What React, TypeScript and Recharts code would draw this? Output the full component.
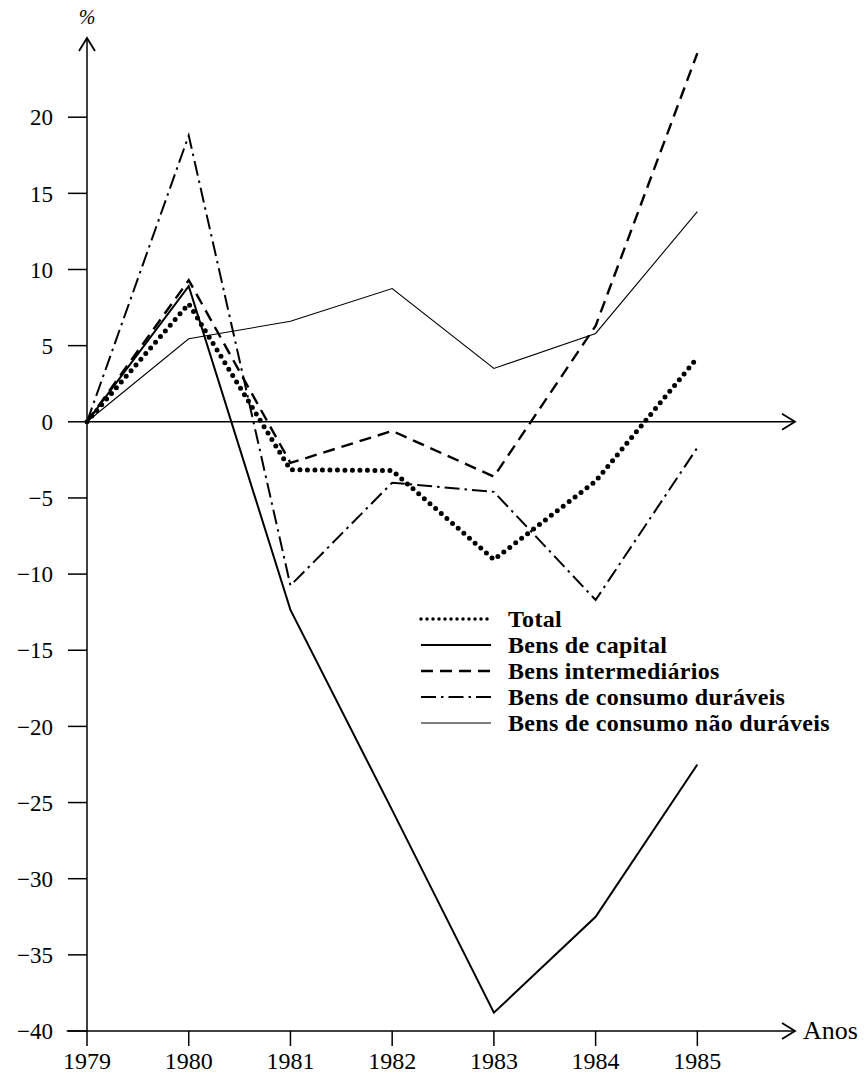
import React from 'react';
import { LineChart, Line, XAxis, YAxis, ReferenceLine, ReferenceDot } from 'recharts';

const years = [1979, 1980, 1981, 1982, 1983, 1984, 1985];
const total = [0, 7.75, -3.15, -3.2, -9.05, -3.9, 4.2];
const capital = [0, 8.9, -12.35, -25.5, -38.8, -32.5, -22.5];
const intermediarios = [0, 9.3, -2.7, -0.6, -3.6, 6.3, 24.2];
const duraveis = [0, 18.8, -10.75, -4.0, -4.6, -11.7, -1.7];
const naoDuraveis = [0, 5.45, 6.6, 8.75, 3.5, 5.8, 13.8];
const yTicks = [-40, -35, -30, -25, -20, -15, -10, -5, 0, 5, 10, 15, 20];

const data = years.map((y, i) => ({
  year: y,
  total: total[i],
  capital: capital[i],
  intermediarios: intermediarios[i],
  duraveis: duraveis[i],
  naoDuraveis: naoDuraveis[i],
}));

const FONT = '"Liberation Serif", "Times New Roman", serif';
const X_END = 1985.96;
const X_START_EXT = 1978.8;
const Y_TOP = 25.2;

const series = [
  { key: 'total', name: 'Total', width: 5, dash: '0 7.5', cap: 'round' as const },
  { key: 'capital', name: 'Bens de capital', width: 2, dash: undefined, cap: 'butt' as const },
  { key: 'intermediarios', name: 'Bens intermediários', width: 2.4, dash: '12 7', cap: 'butt' as const },
  { key: 'duraveis', name: 'Bens de consumo duráveis', width: 2, dash: '15 5 2.5 5', cap: 'butt' as const },
  { key: 'naoDuraveis', name: 'Bens de consumo não duráveis', width: 1.1, dash: undefined, cap: 'butt' as const },
];

const RightArrow = (props: any) => {
  const { cx, cy, label } = props;
  return (
    <g>
      <path d={`M${cx - 13},${cy - 8} L${cx},${cy} L${cx - 13},${cy + 8}`} fill="none" stroke="#000" strokeWidth={1.8} />
      {label ? (
        <text x={cx + 8} y={cy + 8} fontFamily={FONT} fontSize={26} fill="#000">{label}</text>
      ) : null}
    </g>
  );
};

const UpArrow = (props: any) => {
  const { cx, cy } = props;
  return (
    <g>
      <path d={`M${cx - 8},${cy + 13} L${cx},${cy} L${cx + 8},${cy + 13}`} fill="none" stroke="#000" strokeWidth={1.8} />
      <text x={cx} y={cy - 14} fontFamily={FONT} fontStyle="italic" fontSize={20} fill="#000" textAnchor="middle">%</text>
    </g>
  );
};

const LegendBox = () => (
  <div
    style={{
      position: 'absolute',
      left: 418,
      top: 606,
      fontFamily: FONT,
      fontWeight: 'bold',
      fontSize: 24,
      letterSpacing: '0.3px',
      lineHeight: '26px',
      color: '#000',
      whiteSpace: 'nowrap',
    }}
  >
    {series.map((s) => (
      <div key={s.key} style={{ display: 'flex', alignItems: 'center', height: 26 }}>
        <svg width={76} height={14} style={{ marginRight: 14, flex: 'none' }}>
          <line
            x1={3}
            y1={7}
            x2={73}
            y2={7}
            stroke="#000"
            strokeWidth={s.key === 'total' ? 3.5 : s.width}
            strokeDasharray={s.key === 'total' ? '0 6' : s.dash}
            strokeLinecap={s.cap}
          />
        </svg>
        <span>{s.name}</span>
      </div>
    ))}
  </div>
);

export default function App() {
  return (
    <div style={{ position: 'absolute', left: 0, top: 0, width: 868, height: 1083, background: '#fff' }}>
      <LineChart width={868} height={1083} data={data} margin={{ top: 38, right: 73, bottom: 0, left: 0 }}>
        <XAxis
          dataKey="year"
          type="number"
          domain={[1979, X_END]}
          ticks={years}
          interval={0}
          tickLine={{ stroke: '#000', strokeWidth: 1.5 }}
          axisLine={{ stroke: '#000', strokeWidth: 1.5 }}
          tickSize={15}
          tickMargin={6}
          height={52}
          tick={{ fill: '#000', fontFamily: FONT, fontSize: 24 }}
        />
        <YAxis
          type="number"
          domain={[-40, Y_TOP]}
          ticks={yTicks}
          interval={0}
          width={87}
          tickSize={19}
          tickMargin={15}
          tickLine={{ stroke: '#000', strokeWidth: 1.5 }}
          axisLine={{ stroke: '#000', strokeWidth: 1.5 }}
          tick={{ fill: '#000', fontFamily: FONT, fontSize: 23 }}
          tickFormatter={(v: number) => (v < 0 ? `\u2212${-v}` : `${v}`)}
        />
        <ReferenceLine y={0} stroke="#000" strokeWidth={1.5} ifOverflow="visible" />
        <ReferenceLine
          segment={[{ x: X_START_EXT, y: -40 }, { x: 1979, y: -40 }]}
          stroke="#000"
          strokeWidth={1.5}
          ifOverflow="visible"
        />
        <ReferenceDot x={X_END} y={0} ifOverflow="visible" shape={(p: any) => <RightArrow {...p} />} />
        <ReferenceDot x={X_END} y={-40} ifOverflow="visible" shape={(p: any) => <RightArrow {...p} label="Anos" />} />
        <ReferenceDot x={1979} y={Y_TOP} ifOverflow="visible" shape={(p: any) => <UpArrow {...p} />} />
        {series.map((s) => (
          <Line
            key={s.key}
            dataKey={s.key}
            name={s.name}
            type="linear"
            stroke="#000"
            strokeWidth={s.width}
            strokeDasharray={s.dash}
            strokeLinecap={s.cap}
            dot={false}
            activeDot={false}
            isAnimationActive={false}
          />
        ))}
      </LineChart>
      <LegendBox />
    </div>
  );
}
